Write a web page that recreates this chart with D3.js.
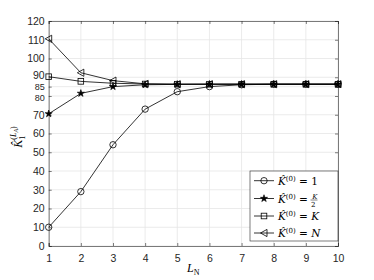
<!DOCTYPE html>
<html><head><meta charset="utf-8">
<script src="https://cdn.jsdelivr.net/npm/d3@7"></script>
<style>body{margin:0;background:#fff}svg{display:block}</style>
</head><body>
<script>
const xValues = [1,2,3,4,5,6,7,8,9,10];
const seriesOne = [10,29,54,73,82.3,85,86,86.3,86.3,86.3];
const seriesHalf = [70.5,81.4,85,86,86.2,86.3,86.3,86.3,86.3,86.3];
const seriesK = [90.3,87.8,86.8,86.4,86.3,86.3,86.3,86.3,86.3,86.3];
const seriesN = [110.5,92.4,88.2,86.5,86.3,86.3,86.3,86.3,86.3,86.3];
const yTicks = [0,10,20,30,40,50,60,70,80,85,90,100,110,120];
const legendLabels = [["1",""],["K/2","frac"],["K",""],["N",""]];

const W=374,H=280;
const m={l:48.7,r:338,t:21,b:246};
const svg=d3.select("body").append("svg").attr("width",W).attr("height",H);
const x=d3.scaleLinear().domain([1,10]).range([m.l,m.r]);
const y=d3.scaleLinear().domain([0,120]).range([m.b,m.t]);

// grid
const g=svg.append("g");
g.selectAll(".gx").data(xValues).enter().append("line")
 .attr("x1",d=>x(d)).attr("x2",d=>x(d)).attr("y1",m.t).attr("y2",m.b)
 .attr("stroke","#e6e6e6").attr("stroke-width",0.8);
g.selectAll(".gy").data(yTicks).enter().append("line")
 .attr("x1",m.l).attr("x2",m.r).attr("y1",d=>y(d)).attr("y2",d=>y(d))
 .attr("stroke","#e6e6e6").attr("stroke-width",0.8);

// axes
const xa=svg.append("g").attr("transform",`translate(0,${m.b})`)
 .call(d3.axisBottom(x).tickValues(xValues).tickSize(-3).tickPadding(9).tickFormat(d3.format("d")));
const xt=svg.append("g").attr("transform",`translate(0,${m.t})`)
 .call(d3.axisTop(x).tickValues(xValues).tickSize(-3).tickFormat(""));
const ya=svg.append("g").attr("transform",`translate(${m.l},0)`)
 .call(d3.axisLeft(y).tickValues(yTicks).tickSize(-3).tickPadding(4).tickFormat(d3.format("d")));
const yr=svg.append("g").attr("transform",`translate(${m.r},0)`)
 .call(d3.axisRight(y).tickValues(yTicks).tickSize(-3).tickFormat(""));
[xa,xt,ya,yr].forEach(a=>{
 a.selectAll("path,line").attr("stroke","#262626").attr("stroke-width",0.6);
 a.selectAll("text").attr("fill","#262626").style("font-family","'Liberation Sans',Helvetica,Arial,sans-serif").style("font-size","10.5px");
});
ya.selectAll(".tick text").filter(d=>d===80||d===85).style("font-size","9px")
 .attr("dy",d=>d===85?"0.32em":"0.55em");
ya.selectAll(".tick text").filter(d=>d===90).attr("dy","0.15em");

// series
const series=[{v:seriesOne,m:"circle"},{v:seriesHalf,m:"star"},{v:seriesK,m:"square"},{v:seriesN,m:"tri"}];
const line=d3.line().x((d,i)=>x(xValues[i])).y(d=>y(d));
function marker(sel,type){
 if(type==="circle") sel.append("circle").attr("r",3.2).attr("fill","none").attr("stroke","#000").attr("stroke-width",0.8);
 else if(type==="square") sel.append("rect").attr("x",-2.8).attr("y",-2.8).attr("width",5.6).attr("height",5.6).attr("fill","none").attr("stroke","#000").attr("stroke-width",0.8);
 else if(type==="star") sel.append("path").attr("d",d3.symbol(d3.symbolStar,16)()).attr("fill","#000").attr("stroke","#000").attr("stroke-width",0.6);
 else if(type==="tri") sel.append("path").attr("d","M-3.5,0L3,-3.6L3,3.6Z").attr("fill","none").attr("stroke","#000").attr("stroke-width",0.8);
}
series.forEach(s=>{
 svg.append("path").datum(s.v).attr("d",line).attr("fill","none").attr("stroke","#000").attr("stroke-width",0.8);
 s.v.forEach((d,i)=>{
  const gg=svg.append("g").attr("transform",`translate(${x(xValues[i])},${y(d)})`);
  marker(gg,s.m);
 });
});

// legend
const lg=svg.append("g");
lg.append("rect").attr("x",250).attr("y",171).attr("width",88).attr("height",70).attr("fill","#fff").attr("stroke","#262626").attr("stroke-width",0.6);
const ly=[180.7,198.5,216,233];
series.forEach((s,i)=>{
 lg.append("line").attr("x1",254).attr("x2",274).attr("y1",ly[i]).attr("y2",ly[i]).attr("stroke","#000").attr("stroke-width",0.8);
 const mg=lg.append("g").attr("transform",`translate(264,${ly[i]})`);
 marker(mg,s.m);
 const t=lg.append("text").attr("x",278).attr("y",ly[i]+4).style("font-family","'DejaVu Serif','Liberation Serif',serif").style("font-size","10.5px");
 t.append("tspan").attr("font-style","italic").text("K\u0302");
 t.append("tspan").attr("dy",-4).style("font-size","7px").text("(0)");
 t.append("tspan").attr("dy",4).text(" = ");
 const lab=legendLabels[i];
 if(lab[1]==="frac"){
  t.append("tspan").attr("dx",1).attr("dy",-4).attr("font-style","italic").style("font-size","7px").text("K");
  lg.append("line").attr("x1",t.node().getComputedTextLength()+278-6).attr("x2",t.node().getComputedTextLength()+278+1).attr("y1",ly[i]+1.5).attr("y2",ly[i]+1.5).attr("stroke","#000").attr("stroke-width",0.5);
  lg.append("text").attr("x",t.node().getComputedTextLength()+278-5.5).attr("y",ly[i]+8).style("font-family","'DejaVu Serif','Liberation Serif',serif").style("font-size","7px").text("2");
 } else {
  t.append("tspan").attr("font-style",lab[0]==="1"?"normal":"italic").text(lab[0]);
 }
});

// axis labels
const xl=svg.append("text").attr("x",(m.l+m.r)/2).attr("y",272).attr("text-anchor","middle")
 .style("font-family","'Liberation Serif',serif").style("font-size","12px");
xl.append("tspan").attr("font-style","italic").text("L");
xl.append("tspan").attr("dy",2.5).style("font-size","8px").text("N");

const yl=svg.append("text").attr("transform","translate(22,137) rotate(-90)").attr("text-anchor","middle")
 .style("font-family","'Liberation Serif',serif").style("font-size","12px");
yl.append("tspan").attr("font-style","italic").text("K\u0302");
yl.append("tspan").attr("dy",3).style("font-size","8px").text("1");
yl.append("tspan").attr("dx",-4).attr("dy",-9).style("font-size","8px").text("(");
yl.append("tspan").attr("font-style","italic").style("font-size","8px").text("L");
yl.append("tspan").attr("dy",1.5).attr("font-style","italic").style("font-size","6px").text("A");
yl.append("tspan").attr("dy",-1.5).style("font-size","8px").text(")");
</script>
</body></html>
